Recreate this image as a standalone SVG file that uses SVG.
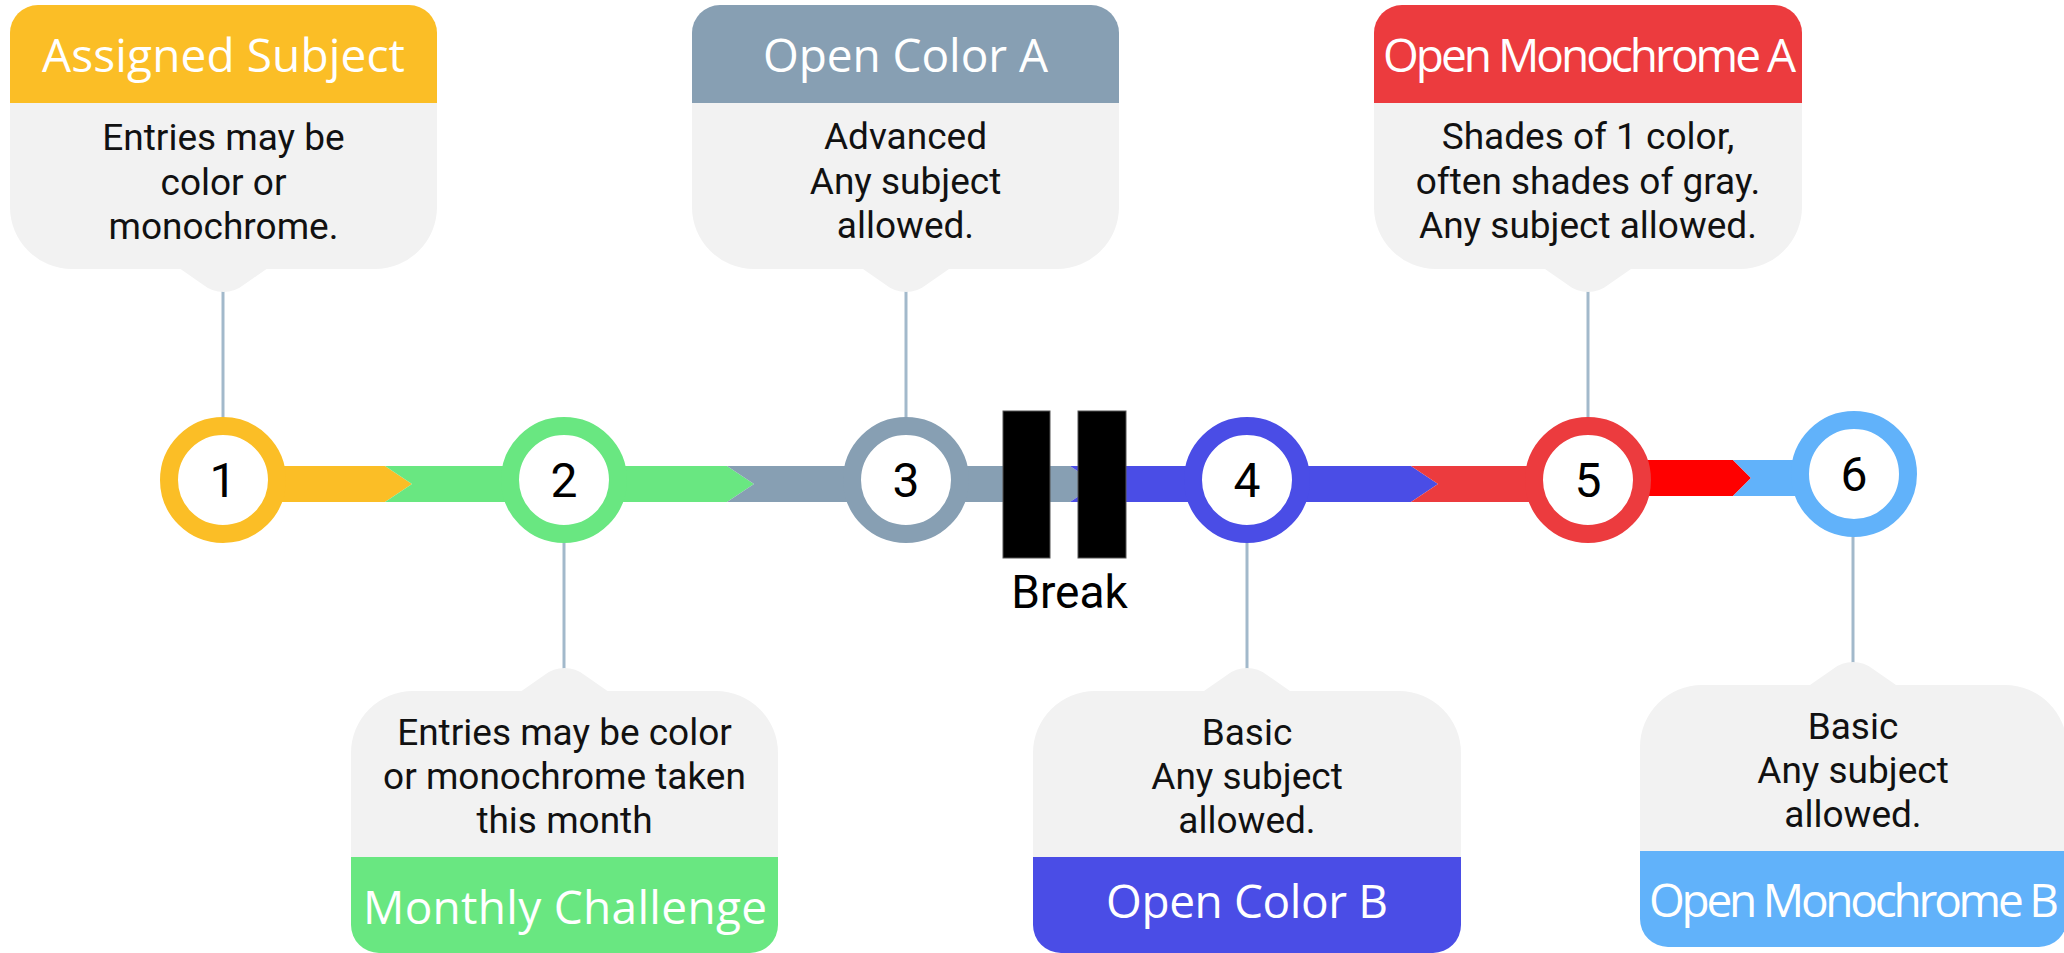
<svg xmlns="http://www.w3.org/2000/svg" width="2064" height="953" viewBox="0 0 2064 953">
  <style>
    .body { fill: #F2F2F2; }
    .hdr { font-family: "Open Sans", "Liberation Sans", sans-serif; font-size: 46px; fill: #FFFFFF; text-anchor: middle; }
    .txt { font-family: Roboto, "Liberation Sans", sans-serif; font-size: 37px; fill: #111111; text-anchor: middle; }
    .num { font-family: Roboto, "Liberation Sans", sans-serif; font-size: 48px; fill: #000000; text-anchor: middle; }
    .ring { fill: #FFFFFF; stroke-width: 18; }
    .conn { stroke: #A2B9CB; stroke-width: 3; fill: none; }
  </style>
  <rect width="2064" height="953" fill="#FFFFFF"/>

  <!-- connectors -->
  <g id="connectors">
    <line class="conn" x1="223" y1="290" x2="223" y2="418"/>
    <line class="conn" x1="564" y1="542" x2="564" y2="670"/>
    <line class="conn" x1="906" y1="290" x2="906" y2="418"/>
    <line class="conn" x1="1247" y1="542" x2="1247" y2="670"/>
    <line class="conn" x1="1588" y1="290" x2="1588" y2="418"/>
    <line class="conn" x1="1853" y1="536" x2="1853" y2="664"/>
  </g>

  <!-- timeline bands -->
  <g id="timeline">
    <polygon fill="#FBBE26" points="223,466 385,466 412,484 385,502 223,502"/>
    <polygon fill="#69E781" points="385,466 727,466 754,484 727,502 385,502 412,484"/>
    <polygon fill="#879FB3" points="727,466 1070,466 1097,484 1070,502 727,502 754,484"/>
    <polygon fill="#4A4DE6" points="1070,466 1411,466 1438,484 1411,502 1070,502 1097,484"/>
    <polygon fill="#EC3B3E" points="1411,466 1588,466 1588,502 1411,502 1438,484"/>
    <polygon fill="#FF0000" points="1588,460 1733,460 1751,478 1733,496 1588,496"/>
    <polygon fill="#61B2FA" points="1733,460 1854,460 1854,496 1733,496 1751,478"/>
  </g>

  <!-- break -->
  <g id="break">
    <rect x="1003" y="411" width="47" height="147" fill="#000000" stroke="#555555" stroke-width="1"/>
    <rect x="1078" y="411" width="48" height="147" fill="#000000" stroke="#555555" stroke-width="1"/>
    <text x="1069.5" y="608" font-family="Roboto, 'Liberation Sans', sans-serif" font-size="46" fill="#000000" text-anchor="middle">Break</text>
  </g>

  <!-- circles -->
  <g id="step1"><circle class="ring" cx="223" cy="480" r="54" stroke="#FBBE26"/><text class="num" x="223" y="497">1</text></g>
  <g id="step2"><circle class="ring" cx="564" cy="480" r="54" stroke="#69E781"/><text class="num" x="564" y="497">2</text></g>
  <g id="step3"><circle class="ring" cx="906" cy="480" r="54" stroke="#879FB3"/><text class="num" x="906" y="497">3</text></g>
  <g id="step4"><circle class="ring" cx="1247" cy="480" r="54" stroke="#4A4DE6"/><text class="num" x="1247" y="497">4</text></g>
  <g id="step5"><circle class="ring" cx="1588" cy="480" r="54" stroke="#EC3B3E"/><text class="num" x="1588" y="497">5</text></g>
  <g id="step6"><circle class="ring" cx="1854" cy="474" r="54" stroke="#61B2FA"/><text class="num" x="1854" y="491">6</text></g>

  <!-- top cards -->
  <g id="card-assigned-subject">
    <path fill="#FBBE26" d="M10,103 V33 A28 28 0 0 1 38,5 H409 A28 28 0 0 1 437,33 V103 Z"/>
    <path class="body" d="M10,103 H437 V207 A62 62 0 0 1 375,269 H266.5 L243.5,285 A32 32 0 0 1 203.5,285 L180.5,269 H72 A62 62 0 0 1 10,207 Z"/>
    <text class="hdr" x="223.5" y="72" textLength="363" lengthAdjust="spacing">Assigned Subject</text>
    <text class="txt" x="223.5" y="150">Entries may be</text>
    <text class="txt" x="223.5" y="195">color or</text>
    <text class="txt" x="223.5" y="239">monochrome.</text>
  </g>

  <g id="card-open-color-a">
    <path fill="#879FB3" d="M692,103 V33 A28 28 0 0 1 720,5 H1091 A28 28 0 0 1 1119,33 V103 Z"/>
    <path class="body" d="M692,103 H1119 V207 A62 62 0 0 1 1057,269 H949 L926,285 A32 32 0 0 1 886,285 L863,269 H754 A62 62 0 0 1 692,207 Z"/>
    <text class="hdr" x="905.5" y="72" textLength="285" lengthAdjust="spacing">Open Color A</text>
    <text class="txt" x="905.5" y="149">Advanced</text>
    <text class="txt" x="905.5" y="194">Any subject</text>
    <text class="txt" x="905.5" y="238">allowed.</text>
  </g>

  <g id="card-open-monochrome-a">
    <path fill="#EC3B3E" d="M1374,103 V33 A28 28 0 0 1 1402,5 H1774 A28 28 0 0 1 1802,33 V103 Z"/>
    <path class="body" d="M1374,103 H1802 V207 A62 62 0 0 1 1740,269 H1631 L1608,285 A32 32 0 0 1 1568,285 L1545,269 H1436 A62 62 0 0 1 1374,207 Z"/>
    <text class="hdr" x="1589.5" y="72" textLength="413" lengthAdjust="spacing">Open Monochrome A</text>
    <text class="txt" x="1588" y="149">Shades of 1 color,</text>
    <text class="txt" x="1588" y="194">often shades of gray.</text>
    <text class="txt" x="1588" y="238">Any subject allowed.</text>
  </g>

  <!-- bottom cards -->
  <g id="card-monthly-challenge">
    <path class="body" d="M351,857 V753 A62 62 0 0 1 413,691 H521.5 L544.5,675 A32 32 0 0 1 584.5,675 L607.5,691 H716 A62 62 0 0 1 778,753 V857 Z"/>
    <path fill="#69E781" d="M351,857 H778 V925 A28 28 0 0 1 750,953 H379 A28 28 0 0 1 351,925 Z"/>
    <text class="txt" x="564.5" y="745">Entries may be color</text>
    <text class="txt" x="564.5" y="789">or monochrome taken</text>
    <text class="txt" x="564.5" y="833">this month</text>
    <text class="hdr" x="565" y="924" textLength="404" lengthAdjust="spacing">Monthly Challenge</text>
  </g>

  <g id="card-open-color-b">
    <path class="body" d="M1033,857 V753 A62 62 0 0 1 1095,691 H1204 L1227,675 A32 32 0 0 1 1267,675 L1290,691 H1399 A62 62 0 0 1 1461,753 V857 Z"/>
    <path fill="#4A4DE6" d="M1033,857 H1461 V925 A28 28 0 0 1 1433,953 H1061 A28 28 0 0 1 1033,925 Z"/>
    <text class="txt" x="1247" y="745">Basic</text>
    <text class="txt" x="1247" y="789">Any subject</text>
    <text class="txt" x="1247" y="833">allowed.</text>
    <text class="hdr" x="1247" y="918" textLength="282" lengthAdjust="spacing">Open Color B</text>
  </g>

  <g id="card-open-monochrome-b">
    <path class="body" d="M1640,851 V747 A62 62 0 0 1 1702,685 H1810 L1833,669 A32 32 0 0 1 1873,669 L1896,685 H2005 A62 62 0 0 1 2067,747 V851 Z"/>
    <path fill="#61B2FA" d="M1640,851 H2067 V919 A28 28 0 0 1 2039,947 H1668 A28 28 0 0 1 1640,919 Z"/>
    <text class="txt" x="1853" y="739">Basic</text>
    <text class="txt" x="1853" y="783">Any subject</text>
    <text class="txt" x="1853" y="827">allowed.</text>
    <text class="hdr" x="1854" y="917" textLength="410" lengthAdjust="spacing">Open Monochrome B</text>
  </g>
</svg>
